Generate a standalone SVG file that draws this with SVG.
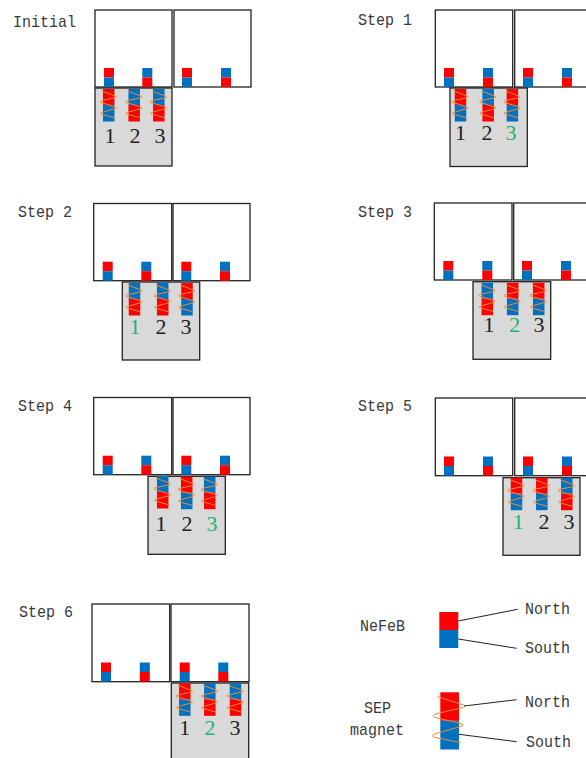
<svg xmlns="http://www.w3.org/2000/svg" width="586" height="758" viewBox="0 0 586 758">
<style>
.bx{fill:#fff;stroke:#222;stroke-width:1.3}
.gr{fill:#d9d9d9;stroke:#222;stroke-width:1.3}
.r{fill:#ff0000}.b{fill:#0070c0}
.c{fill:none;stroke:#f08a32;stroke-width:1}
.ln{fill:none;stroke:#222;stroke-width:1}
.t{font-family:"Liberation Mono",monospace;font-size:17px;fill:#3a3a3a}
.d{font-family:"Liberation Serif",serif;font-size:22px;fill:#222;text-anchor:middle}
.g{fill:#1fb36b}
</style>
<defs>
<g id="ns"><rect class="r" width="10" height="9.5"/><rect class="b" y="9.5" width="10" height="9.5"/></g>
<g id="sn"><rect class="b" width="10" height="9.5"/><rect class="r" y="9.5" width="10" height="9.5"/></g>
<path id="coil" class="c" d="M-6.7 2L4.500 6.300Q11 8 4.500 9.200L-5.500 11.300Q-12 12.700 -5.500 14.200L4.500 17.300Q11 18.700 4.500 20.200L-5 22.800Q-11.500 24.300 -5 25.700L5.700 28.700"/>
<g id="sepns"><rect class="r" x="-5.75" width="11.5" height="16"/><rect class="b" x="-5.75" y="16" width="11.5" height="16.5"/><use href="#coil"/></g>
<g id="sepsn"><rect class="b" x="-5.75" width="11.5" height="16"/><rect class="r" x="-5.75" y="16" width="11.5" height="16.5"/><use href="#coil"/></g>
</defs>
<g id="initial">
<text class="t" x="13" y="27" textLength="63" lengthAdjust="spacingAndGlyphs">Initial</text>
<rect class="bx" x="95" y="10" width="77" height="77"/><rect class="bx" x="174" y="10" width="77" height="77"/>
<use href="#ns" x="104" y="68"/><use href="#sn" x="142.300" y="68"/><use href="#ns" x="182" y="68"/><use href="#sn" x="221" y="68"/>
<rect class="gr" x="95" y="88" width="77" height="78"/>
<use href="#sepns" x="108.700" y="89"/><use href="#sepsn" x="134.200" y="89"/><use href="#sepsn" x="158.800" y="89"/>
<text class="d" x="110" y="143">1</text><text class="d" x="135" y="143">2</text><text class="d" x="160" y="143">3</text>
</g>
<g id="step1">
<text class="t" x="358" y="25" textLength="54" lengthAdjust="spacingAndGlyphs">Step 1</text>
<rect class="bx" x="435.300" y="10" width="77.400" height="77"/><rect class="bx" x="514.700" y="10" width="77.400" height="77"/>
<use href="#ns" x="444" y="68"/><use href="#sn" x="483" y="68"/><use href="#ns" x="523" y="68"/><use href="#sn" x="562" y="68"/>
<rect class="gr" x="450" y="88" width="77.300" height="78.500"/>
<use href="#sepns" x="460.500" y="89"/><use href="#sepsn" x="488.200" y="89"/><use href="#sepns" x="512.400" y="89"/>
<text class="d" x="460.500" y="140">1</text><text class="d" x="487" y="140">2</text><text class="d g" x="511" y="140">3</text>
</g>
<g id="step2">
<text class="t" x="18" y="217" textLength="54" lengthAdjust="spacingAndGlyphs">Step 2</text>
<rect class="bx" x="93.700" y="203.500" width="78" height="77.200"/><rect class="bx" x="173" y="203.500" width="77" height="77.200"/>
<use href="#ns" x="102.700" y="261.700"/><use href="#sn" x="141.300" y="261.700"/><use href="#ns" x="181.300" y="261.700"/><use href="#sn" x="220" y="261.700"/>
<rect class="gr" x="122.300" y="282" width="77.400" height="78"/>
<use href="#sepsn" x="134.500" y="283"/><use href="#sepsn" x="162.700" y="283"/><use href="#sepns" x="187" y="283"/>
<text class="d g" x="135" y="334">1</text><text class="d" x="161" y="334">2</text><text class="d" x="186" y="334">3</text>
</g>
<g id="step3">
<text class="t" x="358" y="217" textLength="54" lengthAdjust="spacingAndGlyphs">Step 3</text>
<rect class="bx" x="434.300" y="203" width="77.700" height="77"/><rect class="bx" x="513.700" y="203" width="78" height="77"/>
<use href="#ns" x="443.300" y="261"/><use href="#sn" x="482.300" y="261"/><use href="#ns" x="522" y="261"/><use href="#sn" x="561" y="261"/>
<rect class="gr" x="473" y="281.700" width="77.700" height="77.600"/>
<use href="#sepsn" x="487.300" y="282.700"/><use href="#sepns" x="512.700" y="282.700"/><use href="#sepns" x="538.700" y="282.700"/>
<text class="d" x="489" y="332">1</text><text class="d g" x="514.700" y="332">2</text><text class="d" x="539" y="332">3</text>
</g>
<g id="step4">
<text class="t" x="18" y="411" textLength="54" lengthAdjust="spacingAndGlyphs">Step 4</text>
<rect class="bx" x="93.700" y="397.500" width="78" height="77.200"/><rect class="bx" x="173" y="397.500" width="77" height="77.200"/>
<use href="#ns" x="102.700" y="455.700"/><use href="#sn" x="141.300" y="455.700"/><use href="#ns" x="181.300" y="455.700"/><use href="#sn" x="220" y="455.700"/>
<rect class="gr" x="148" y="476.300" width="77.300" height="78"/>
<use href="#sepsn" x="162.700" y="476"/><use href="#sepns" x="186.700" y="476.700"/><use href="#sepsn" x="209.700" y="476.700"/>
<text class="d" x="161" y="531">1</text><text class="d" x="187" y="531">2</text><text class="d g" x="212" y="531">3</text>
</g>
<g id="step5">
<text class="t" x="358" y="411" textLength="54" lengthAdjust="spacingAndGlyphs">Step 5</text>
<rect class="bx" x="435.300" y="398" width="77.400" height="77.700"/><rect class="bx" x="514.700" y="398" width="77.400" height="77.700"/>
<use href="#ns" x="444" y="456.500"/><use href="#sn" x="483" y="456.500"/><use href="#ns" x="523" y="456.500"/><use href="#sn" x="562" y="456.500"/>
<rect class="gr" x="503" y="477.700" width="77" height="77.600"/>
<use href="#sepns" x="516.500" y="477.700"/><use href="#sepns" x="541.800" y="477.700"/><use href="#sepsn" x="566.800" y="477.700"/>
<text class="d g" x="518.300" y="529">1</text><text class="d" x="544" y="529">2</text><text class="d" x="569" y="529">3</text>
</g>
<g id="step6">
<text class="t" x="19" y="617" textLength="54" lengthAdjust="spacingAndGlyphs">Step 6</text>
<rect class="bx" x="92" y="604" width="77.700" height="77.700"/><rect class="bx" x="171" y="604" width="78" height="77.700"/>
<use href="#ns" x="101" y="662.500"/><use href="#sn" x="139.800" y="662.500"/><use href="#ns" x="179.700" y="662.500"/><use href="#sn" x="218.300" y="662.500"/>
<rect class="gr" x="171.300" y="683" width="77.400" height="80"/>
<use href="#sepns" x="184.800" y="683.300"/><use href="#sepsn" x="209.800" y="683.300"/><use href="#sepsn" x="235.500" y="683.300"/>
<text class="d" x="184.700" y="735">1</text><text class="d g" x="210" y="735">2</text><text class="d" x="235" y="735">3</text>
</g>
<g id="legend-nefeb">
<text class="t" x="360" y="631" textLength="45" lengthAdjust="spacingAndGlyphs">NeFeB</text>
<rect class="r" x="439.300" y="612" width="19" height="18"/><rect class="b" x="439.300" y="630" width="19" height="18"/>
<text class="t" x="525" y="614" textLength="45" lengthAdjust="spacingAndGlyphs">North</text><text class="t" x="525" y="653" textLength="45" lengthAdjust="spacingAndGlyphs">South</text>
</g>
<g id="legend-sep">
<text class="t" x="364" y="713" textLength="27" lengthAdjust="spacingAndGlyphs">SEP</text><text class="t" x="350" y="735" textLength="54" lengthAdjust="spacingAndGlyphs">magnet</text>
<rect class="r" x="440.300" y="692.300" width="18.700" height="28.500"/><rect class="b" x="440.300" y="720.800" width="18.700" height="28.700"/>
<path class="c" d="M437.300 696.700L459 703.500Q471 706.500 459 708.500L439 713Q427 716 439 718.500L457 722.500Q469 725 457 727.500L438 733Q426 736 438 738L460.700 742.700"/>
<text class="t" x="525" y="707" textLength="45" lengthAdjust="spacingAndGlyphs">North</text><text class="t" x="526" y="747" textLength="45" lengthAdjust="spacingAndGlyphs">South</text>
</g>
<g id="connectors">
<path class="ln" d="M458.300 621L517.700 609.300M458.300 639L516.700 648.300M464 706L516.700 699.700M459 734.300L516.700 741.700"/>
</g>
</svg>
